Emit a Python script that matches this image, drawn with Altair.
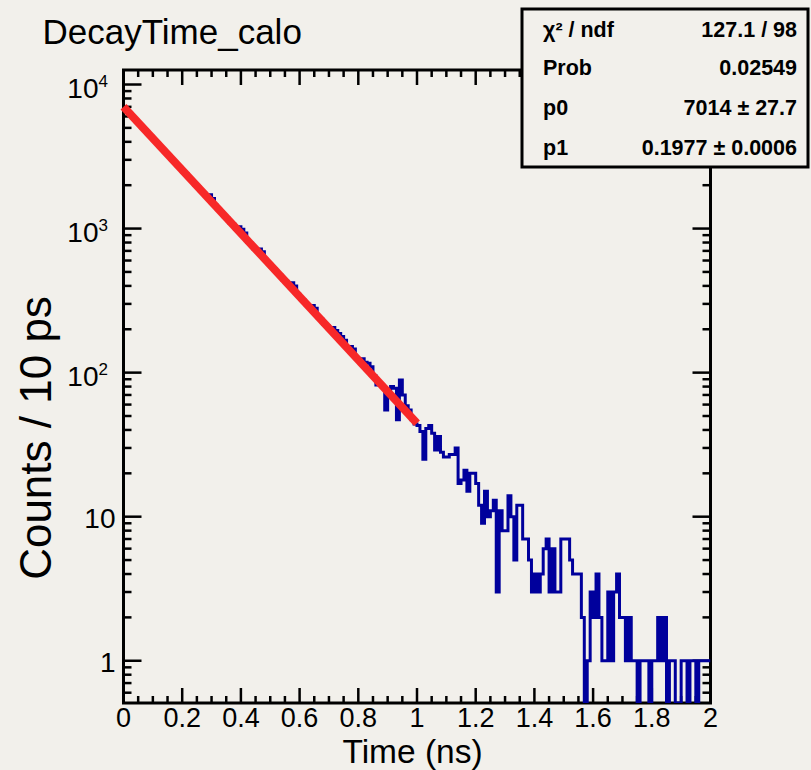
import math
import altair as alt
import pandas as pd

FONT = "Liberation Sans"
BG = "#f2f0eb"
HIST_COLOR = "#00009c"
FIT_COLOR = "#f72828"

# ---- histogram: DecayTime_calo, 200 bins of 10 ps between 0 and 2 ns ----
BIN_WIDTH = 0.01
counts = [
    6815, 6540, 6150, 5905, 5560, 5340, 5010, 4830, 4540, 4370,
    4090, 3955, 3700, 3570, 3340, 3230, 3010, 2920, 2730, 2640,
    2460, 2390, 2230, 2160, 2010, 1950, 1810, 1770, 1640, 1720,
    1620, 1450, 1340, 1300, 1210, 1180, 1090, 1070, 985, 1030,
    990, 930, 805, 790, 725, 712, 720, 690, 598, 580,
    540, 525, 488, 475, 440, 430, 398, 420, 400, 352,
    325, 318, 292, 287, 292, 280, 240, 235, 216, 212,
    196, 206, 196, 187, 178, 168, 146, 152, 146, 125,
    120, 125, 118, 116, 110, 95, 82, 82, 80, 55,
    75, 80, 78, 47, 89, 70, 59, 55, 47, 44,
    43, 39, 25, 41, 43, 38, 29, 36, 28, 26,
    26, 27, 27, 30, 17, 18, 21, 15, 20, 20,
    17, 12, 9, 15, 10, 11, 13, 3, 11, 8,
    8, 14, 10, 5, 12, 12, 7, 7, 5, 3,
    4, 3, 4, 6, 7, 3, 6, 3, 3, 7,
    7, 7, 5, 4, 4, 4, 2, 0, 1, 3,
    2, 4, 2, 1, 1, 3, 1, 3, 4, 2,
    2, 1, 2, 1, 1, 0, 1, 1, 1, 0,
    1, 1, 2, 1, 2, 0, 1, 1, 0, 0,
    1, 1, 0, 1, 1, 0, 1, 1, 1, 1,
]

# ---- fit results (expo: p0 * exp(-t / p1)) ----
chi2, ndf, prob = 127.1, 98, 0.02549
p0, p0_err = 7014, 27.7
p1, p1_err = 0.1977, 0.0006
fit_range = [0.0, 1.0]

# ---- axis ticks ----
x_major = [0, 0.2, 0.4, 0.6, 0.8, 1, 1.2, 1.4, 1.6, 1.8, 2]
y_major = [1, 10, 100, 1000, 10000]
y_exponent = ["", "", "2", "3", "4"]
X_DOMAIN = [0, 2]
Y_DOMAIN = [0.509, 12610]

x_minor = [round(i * 0.05, 2) for i in range(41) if i % 4]
y_minor = [m * 10.0 ** k for k in range(-1, 4) for m in range(2, 10)]
y_minor = [v for v in y_minor if Y_DOMAIN[0] <= v <= Y_DOMAIN[1]]

W, H = 587, 633

edges = [round(i * BIN_WIDTH, 2) for i in range(len(counts))] + [X_DOMAIN[1]]
hist_df = pd.DataFrame({"t": edges, "counts": counts + [counts[-1]]})
fit_df = pd.DataFrame({"t": fit_range,
                       "f": [p0 * math.exp(-t / p1) for t in fit_range]})

xs = alt.Scale(domain=X_DOMAIN, nice=False, zero=False)
ys = alt.Scale(type="log", domain=Y_DOMAIN, nice=False, clamp=True)
X = lambda f: alt.X(f, type="quantitative", scale=xs, axis=None)
Y = lambda f: alt.Y(f, type="quantitative", scale=ys, axis=None)
one = pd.DataFrame({"k": [0]})

layers = []

# inward ticks on all four sides of the frame
def x_ticks(vals, length):
    d = alt.Chart(pd.DataFrame({"t": vals})).mark_rule(color="black", strokeWidth=2.5)
    return [d.encode(x=X("t"), y=alt.value(H), y2=alt.value(H - length)),
            d.encode(x=X("t"), y=alt.value(0), y2=alt.value(length))]

def y_ticks(vals, length):
    d = alt.Chart(pd.DataFrame({"v": vals})).mark_rule(color="black", strokeWidth=2.5)
    return [d.encode(y=Y("v"), x=alt.value(0), x2=alt.value(length)),
            d.encode(y=Y("v"), x=alt.value(W), x2=alt.value(W - length))]

layers += x_ticks(x_major, 15) + x_ticks(x_minor, 7)
layers += y_ticks(y_major, 18) + y_ticks(y_minor, 8)

# histogram outline (empty bins drop to the bottom of the frame)
hist = (
    alt.Chart(hist_df)
    .transform_calculate(shown="max(datum.counts, 0.1)")
    .mark_line(interpolate="step-after", color=HIST_COLOR, strokeWidth=3,
               clip=True, strokeJoin="miter")
    .encode(x=X("t"), y=Y("shown"))
)
fit = (
    alt.Chart(fit_df)
    .mark_line(color=FIT_COLOR, strokeWidth=8, strokeCap="butt")
    .encode(x=X("t"), y=Y("f"))
)
layers += [hist, fit]

# x tick labels
x_lab = pd.DataFrame({"t": x_major})
layers.append(
    alt.Chart(x_lab).mark_text(font=FONT, fontSize=27, align="center",
                               baseline="alphabetic", color="black")
    .encode(x=X("t"), y=alt.value(H + 24),
            text=alt.Text("t:Q", format="~g"))
)

# y tick labels (10^n drawn as "10" with a raised exponent)
y_lab = pd.DataFrame({"v": y_major, "e": y_exponent})
layers.append(
    alt.Chart(y_lab).transform_filter("datum.e == ''")
    .mark_text(font=FONT, fontSize=28, align="right", baseline="middle", dy=3)
    .encode(y=Y("v"), x=alt.value(-8), text="v:Q")
)
layers.append(
    alt.Chart(y_lab).transform_filter("datum.e != ''")
    .mark_text(font=FONT, fontSize=28, align="right", baseline="middle", dy=5)
    .encode(y=Y("v"), x=alt.value(-25), text=alt.value("10"))
)
layers.append(
    alt.Chart(y_lab).transform_filter("datum.e != ''")
    .mark_text(font=FONT, fontSize=17, align="left", baseline="alphabetic", dy=2)
    .encode(y=Y("v"), x=alt.value(-25), text="e:N")
)

# axis titles and histogram title
layers.append(
    alt.Chart(one).mark_text(font=FONT, fontSize=33.5, align="center", baseline="alphabetic")
    .encode(x=alt.value(289), y=alt.value(693), text=alt.value("Time (ns)"))
)
layers.append(
    alt.Chart(one).mark_text(font=FONT, fontSize=44, align="center",
                             baseline="alphabetic", angle=270)
    .encode(x=alt.value(-73), y=alt.value(368), text=alt.value("Counts / 10 ps"))
)
layers.append(
    alt.Chart(one).mark_text(font=FONT, fontSize=35, align="left", baseline="alphabetic")
    .encode(x=alt.value(-81), y=alt.value(-26), text=alt.value("DecayTime_calo"))
)

# fit statistics box
layers.append(
    alt.Chart(one).mark_rect(fill=BG, stroke="black", strokeWidth=3)
    .encode(x=alt.value(398.5), x2=alt.value(684.5),
            y=alt.value(-61), y2=alt.value(97))
)
stat_rows = [
    ("χ² / ndf", f"{chi2} / {ndf}", -33),
    ("Prob", f"{prob}", 5),
    ("p0", f"{p0}  ±  {p0_err}", 45),
    ("p1", f"{p1:.4f}  ±  {p1_err:.4f}", 85),
]
for name, value, yy in stat_rows:
    layers.append(
        alt.Chart(one).mark_text(font=FONT, fontSize=21.5, fontWeight="bold",
                                 align="left", baseline="alphabetic")
        .encode(x=alt.value(419.5), y=alt.value(yy), text=alt.value(name))
    )
    layers.append(
        alt.Chart(one).mark_text(font=FONT, fontSize=21.5, fontWeight="bold",
                                 align="right", baseline="alphabetic")
        .encode(x=alt.value(673.5), y=alt.value(yy), text=alt.value(value))
    )

chart = (
    alt.layer(*layers)
    .properties(width=W, height=H,
                autosize=alt.AutoSizeParams(type="none"),
                padding={"left": 123.5, "top": 70, "right": 811 - 123.5 - W,
                         "bottom": 770 - 70 - H})
    .configure(background=BG)
    .configure_view(stroke="black", strokeWidth=3)
)

chart.save("out.html", embed_options={"renderer": "svg", "actions": False})
